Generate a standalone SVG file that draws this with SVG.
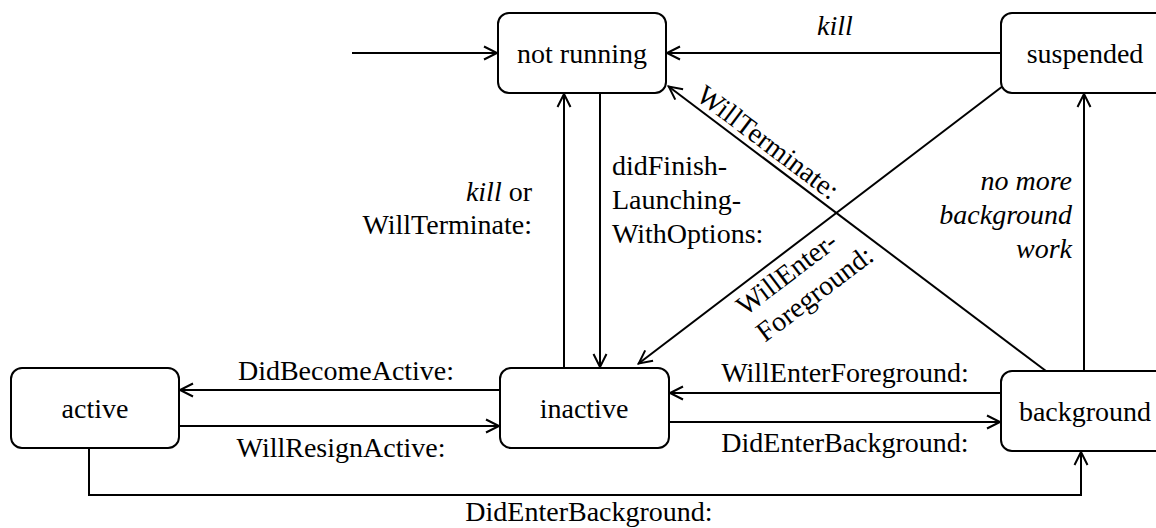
<svg xmlns="http://www.w3.org/2000/svg" width="1156" height="528" viewBox="0 0 1156 528">
  <style>
    .box { fill: #fff; stroke: #000; stroke-width: 2; }
    .edge { fill: none; stroke: #000; stroke-width: 2; }
    text { font-family: "Liberation Serif", "Times New Roman", serif; font-size: 28px; fill: #000; }
    .name { text-anchor: middle; }
    .mid { text-anchor: middle; }
    .end { text-anchor: end; }
    .it { font-style: italic; }
  </style>
  <defs>
    <marker id="arrow" viewBox="-16 -9 19 18" markerWidth="19" markerHeight="18" refX="0" refY="0" orient="auto" markerUnits="userSpaceOnUse">
      <path d="M-14,-6.5 L-1,0 L-14,6.5" fill="none" stroke="#000" stroke-width="2"/>
    </marker>
  </defs>

  <rect width="1156" height="528" fill="#fff"/>

  <!-- transitions -->
  <g id="connectors">
    <!-- initial transition -->
    <line class="edge" x1="352" y1="53" x2="498" y2="53" marker-end="url(#arrow)"/>
    <!-- suspended -> not running -->
    <line class="edge" x1="1001" y1="53" x2="666" y2="53" marker-end="url(#arrow)"/>
    <text class="mid it" x="835" y="35">kill</text>

    <!-- inactive -> not running -->
    <line class="edge" x1="564" y1="368" x2="564" y2="93" marker-end="url(#arrow)"/>
    <text class="end" x="532" y="201"><tspan class="it">kill</tspan> or</text>
    <text class="end" x="532" y="234">WillTerminate:</text>

    <!-- not running -> inactive -->
    <line class="edge" x1="600" y1="93" x2="600" y2="368" marker-end="url(#arrow)"/>
    <text x="612" y="175">didFinish-</text>
    <text x="612" y="209">Launching-</text>
    <text x="612" y="243">WithOptions:</text>

    <!-- background -> not running -->
    <line class="edge" x1="1046" y1="371" x2="668" y2="86" marker-end="url(#arrow)"/>
    <text transform="translate(668,86) rotate(37)" x="29" y="-6">WillTerminate:</text>

    <!-- suspended -> inactive -->
    <line class="edge" x1="1003" y1="86" x2="638" y2="364" marker-end="url(#arrow)"/>
    <g transform="translate(638,364) rotate(-37.2)">
      <text x="114" y="27">WillEnter-</text>
      <text x="114" y="60">Foreground:</text>
    </g>

    <!-- background -> suspended -->
    <line class="edge" x1="1084" y1="371" x2="1084" y2="93" marker-end="url(#arrow)"/>
    <text class="end it" x="1072" y="190">no more</text>
    <text class="end it" x="1072" y="224">background</text>
    <text class="end it" x="1072" y="258">work</text>

    <!-- inactive -> active -->
    <line class="edge" x1="500" y1="390" x2="179" y2="390" marker-end="url(#arrow)"/>
    <text class="mid" x="346" y="380">DidBecomeActive:</text>

    <!-- active -> inactive -->
    <line class="edge" x1="179" y1="426" x2="500" y2="426" marker-end="url(#arrow)"/>
    <text class="mid" x="341" y="457">WillResignActive:</text>

    <!-- background -> inactive -->
    <line class="edge" x1="1001" y1="393" x2="669" y2="393" marker-end="url(#arrow)"/>
    <text class="mid" x="845" y="382">WillEnterForeground:</text>

    <!-- inactive -> background -->
    <line class="edge" x1="669" y1="422" x2="1001" y2="422" marker-end="url(#arrow)"/>
    <text class="mid" x="845" y="452">DidEnterBackground:</text>

    <!-- active -> background -->
    <polyline class="edge" points="89,448 89,495 1081,495 1081,451" marker-end="url(#arrow)"/>
    <text class="mid" x="589" y="521">DidEnterBackground:</text>
  </g>

  <!-- states -->
  <g id="not-running">
    <rect class="box" x="498" y="13" width="168" height="80" rx="11"/>
    <text class="name" x="582" y="63">not running</text>
  </g>
  <g id="suspended">
    <rect class="box" x="1001" y="13" width="168" height="80" rx="11"/>
    <text class="name" x="1085" y="63">suspended</text>
  </g>
  <g id="active">
    <rect class="box" x="11" y="368" width="168" height="80" rx="11"/>
    <text class="name" x="95" y="418">active</text>
  </g>
  <g id="inactive">
    <rect class="box" x="500" y="368" width="169" height="80" rx="11"/>
    <text class="name" x="584" y="418">inactive</text>
  </g>
  <g id="background">
    <rect class="box" x="1001" y="371" width="168" height="80" rx="11"/>
    <text class="name" x="1085" y="421">background</text>
  </g>
</svg>
